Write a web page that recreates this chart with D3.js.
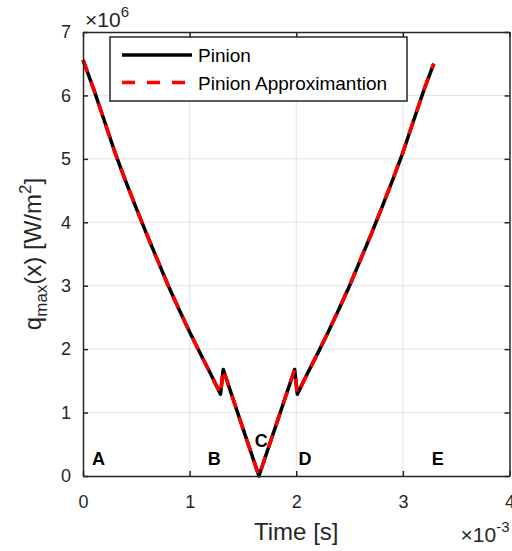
<!DOCTYPE html>
<html>
<head>
<meta charset="utf-8">
<script src="https://cdn.jsdelivr.net/npm/d3@7"></script>
<style>
  body { margin: 0; background: #fff; }
  text { font-family: Arial, "Liberation Sans", sans-serif; }
</style>
</head>
<body>
<div id="chart"></div>
<script>
// time in units of 1e-3 s, heat flux in units of 1e6 W/m^2
var time = [0, 0.1, 0.2, 0.3, 0.4, 0.5, 0.6, 0.7, 0.8, 0.9, 1.0, 1.1, 1.2, 1.29,
  1.315, 1.48, 1.65, 1.82, 1.985, 2.01,
  2.1, 2.2, 2.3, 2.4, 2.5, 2.6, 2.7, 2.8, 2.9, 3.0, 3.1, 3.2, 3.29];
var pinion = [6.56, 6.1, 5.6, 5.1, 4.65, 4.22, 3.8, 3.4, 3.0, 2.63, 2.27, 1.93, 1.6, 1.29,
  1.68, 0.85, 0.0, 0.85, 1.68, 1.29,
  1.6, 1.93, 2.27, 2.63, 3.0, 3.4, 3.8, 4.22, 4.65, 5.1, 5.6, 6.1, 6.5];
var approx = pinion.slice();

var xTicks = [0, 1, 2, 3, 4];
var yTicks = [0, 1, 2, 3, 4, 5, 6, 7];
var zoneNames = ["A", "B", "C", "D", "E"];
var zoneTime = [0.085, 1.17, 1.61, 2.02, 3.27];
var zoneQ = [0.17, 0.17, 0.46, 0.17, 0.17];

var margins = { top: 32, right: 2.5, bottom: 75, left: 83 };
var width = 512 - margins.left - margins.right;
var height = 551 - margins.top - margins.bottom;
var axisColor = "#262626";

var svg = d3.select("#chart").append("svg")
  .attr("width", 512).attr("height", 551)
  .append("g")
  .attr("transform", "translate(" + margins.left + "," + margins.top + ")");

var x = d3.scaleLinear().domain([0, 4]).range([0, width]);
var y = d3.scaleLinear().domain([0, 7]).range([height, 0]);

// grid
svg.append("g").selectAll("line").data(xTicks.slice(1, -1)).join("line")
  .attr("x1", d => x(d)).attr("x2", d => x(d)).attr("y1", 0).attr("y2", height)
  .attr("stroke", "#e3e3e3").attr("stroke-width", 1);
svg.append("g").selectAll("line").data(yTicks.slice(1, -1)).join("line")
  .attr("y1", d => y(d)).attr("y2", d => y(d)).attr("x1", 0).attr("x2", width)
  .attr("stroke", "#e3e3e3").attr("stroke-width", 1);

// lines
var line = d3.line().x((d, i) => x(time[i])).y(d => y(d));
svg.append("path").datum(pinion)
  .attr("fill", "none").attr("stroke", "black").attr("stroke-width", 3.5)
  .attr("stroke-linejoin", "round").attr("d", line);
svg.append("path").datum(approx)
  .attr("fill", "none").attr("stroke", "#ff0000").attr("stroke-width", 3.5)
  .attr("stroke-dasharray", "13,10").attr("d", line);

// zone labels
svg.append("g").selectAll("text").data(zoneNames).join("text")
  .attr("x", (d, i) => x(zoneTime[i])).attr("y", (d, i) => y(zoneQ[i]))
  .style("font-size", "18px").style("font-weight", "bold").attr("fill", "black")
  .text(d => d);

// axes
function styleAxis(g) {
  g.selectAll("path, line").attr("stroke", axisColor).attr("stroke-width", 1.5);
  g.selectAll("text").attr("fill", axisColor).style("font-size", "18px")
    .style("font-family", "Arial, 'Liberation Sans', sans-serif");
}
svg.append("g").attr("transform", "translate(0," + height + ")")
  .call(d3.axisBottom(x).tickValues(xTicks).tickFormat(d3.format("d")).tickSize(-5).tickSizeOuter(0).tickPadding(19))
  .call(styleAxis);
svg.append("g")
  .call(d3.axisLeft(y).tickValues(yTicks).tickFormat(d3.format("d")).tickSize(-5).tickSizeOuter(0).tickPadding(12))
  .call(styleAxis);
svg.append("g")
  .call(d3.axisTop(x).tickValues(xTicks).tickSize(-5).tickSizeOuter(0).tickFormat(""))
  .call(styleAxis);
svg.append("g").attr("transform", "translate(" + width + ",0)")
  .call(d3.axisRight(y).tickValues(yTicks).tickSize(-5).tickSizeOuter(0).tickFormat(""))
  .call(styleAxis);
svg.selectAll(".domain").attr("fill", "none");

// exponent labels
var e1 = svg.append("text").attr("x", 2).attr("y", -5).attr("fill", axisColor)
  .attr("font-size", 21).style("font-size", "21px");
e1.append("tspan").text("\u00d710");
e1.append("tspan").attr("dy", -10).style("font-size", "15px").text("6");
var e2 = svg.append("text").attr("x", width).attr("y", 541.5 - margins.top)
  .attr("text-anchor", "end").attr("fill", axisColor)
  .attr("font-size", 21).style("font-size", "21px");
e2.append("tspan").text("\u00d710");
e2.append("tspan").attr("dy", -10).style("font-size", "15px").text("-3");

// axis titles
svg.append("text").attr("x", width / 2).attr("y", 539.5 - margins.top)
  .attr("text-anchor", "middle").attr("fill", axisColor).style("font-size", "24px")
  .text("Time [s]");
var yl = svg.append("text").attr("transform", "translate(" + (41 - margins.left) + "," + (height / 2) + ") rotate(-90)")
  .attr("text-anchor", "middle").attr("fill", axisColor).style("font-size", "24px");
yl.append("tspan").text("q");
yl.append("tspan").attr("dy", 6).style("font-size", "17px").text("max");
yl.append("tspan").attr("dy", -6).text("(x) [W/m");
yl.append("tspan").attr("dy", -10).style("font-size", "17px").text("2");
yl.append("tspan").attr("dy", 10).text("]");

// legend
var lg = svg.append("g").attr("transform", "translate(" + (110 - margins.left) + "," + (37 - margins.top) + ")");
lg.append("rect").attr("width", 297).attr("height", 64)
  .attr("fill", "white").attr("stroke", axisColor).attr("stroke-width", 1.5);
var legendNames = ["Pinion", "Pinion Approximantion"];
legendNames.forEach(function (name, i) {
  var ly = 18 + i * 27.5;
  var l = lg.append("line").attr("x1", 12).attr("x2", 82).attr("y1", ly).attr("y2", ly)
    .attr("stroke-width", 3.5);
  if (i == 0) l.attr("stroke", "black");
  else l.attr("stroke", "#ff0000").attr("stroke-dasharray", "13,12");
  lg.append("text").attr("x", 88).attr("y", ly + 7).attr("fill", "black")
    .style("font-size", "19px").text(name);
});
</script>
</body>
</html>
